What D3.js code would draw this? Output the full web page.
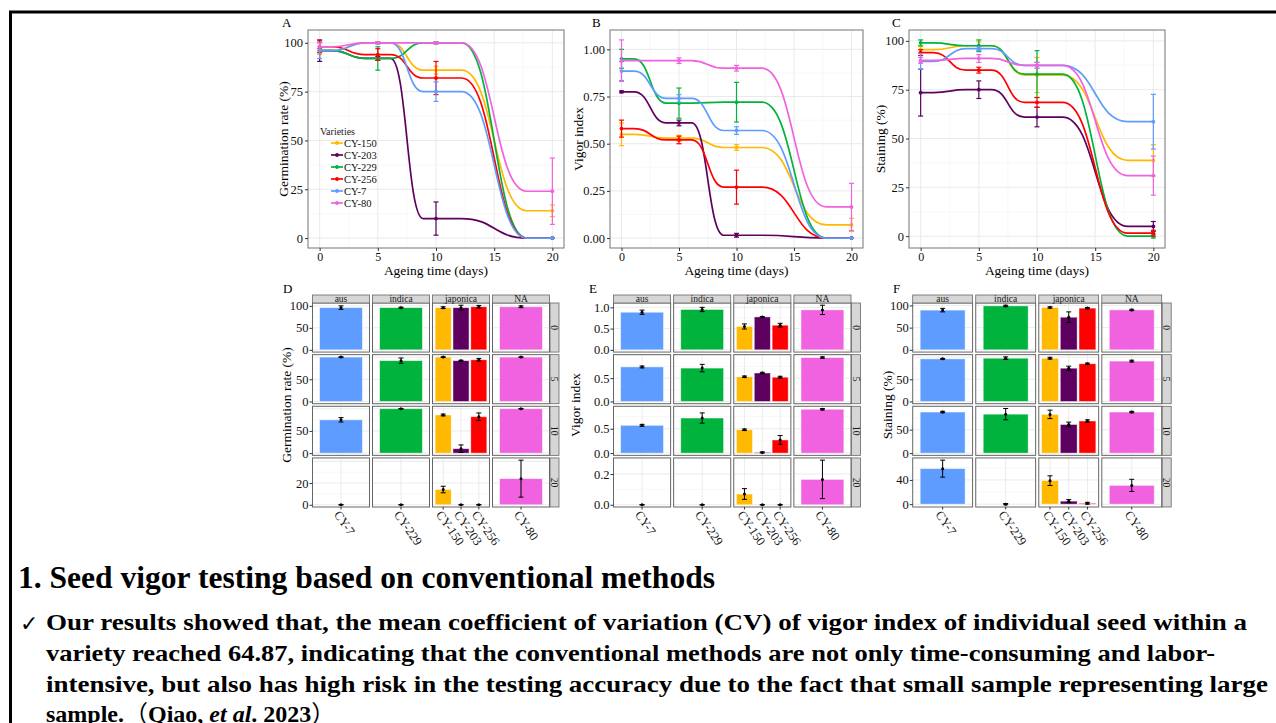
<!DOCTYPE html>
<html>
<head>
<meta charset="utf-8">
<script src="https://cdn.jsdelivr.net/npm/d3@7"></script>
<style>
body { margin: 0; background: #fff; }
svg { display: block; }
</style>
</head>
<body>
<script>
// varieties, in legend order
var varieties = [ 'CY-150', 'CY-203', 'CY-229', 'CY-256', 'CY-7', 'CY-80' ];
var varietyColors = [ '#FFB900', '#5E0060', '#00B33C', '#FF0000', '#5E9CFF', '#F062DF' ];
var varietyGroups = [ 'japonica', 'japonica', 'indica', 'japonica', 'aus', 'NA' ];
var groups = [ 'aus', 'indica', 'japonica', 'NA' ];
var days = [ 0, 5, 10, 20 ];
var dayTicks = [ 0, 5, 10, 15, 20 ];

// one row per variety, one column per ageing day
var germMean = [
	[ 96, 100, 86, 14 ],
	[ 96, 92, 10, 0 ],
	[ 96, 92, 100, 0 ],
	[ 98, 94, 82, 0 ],
	[ 96, 100, 75, 0 ],
	[ 98, 100, 100, 24 ]
];
var germErr = [
	[ 2, 0.5, 2, 3 ],
	[ 5.5, 1, 8.5, 0 ],
	[ 1, 6, 0.5, 0 ],
	[ 3, 3, 8.5, 0 ],
	[ 4, 0.5, 5, 0 ],
	[ 2, 0.5, 0.5, 17 ]
];
var vigorMean = [
	[ 0.55, 0.53, 0.48, 0.07 ],
	[ 0.775, 0.61, 0.015, 0 ],
	[ 0.95, 0.715, 0.72, 0 ],
	[ 0.58, 0.52, 0.27, 0 ],
	[ 0.885, 0.74, 0.57, 0 ],
	[ 0.94, 0.94, 0.9, 0.165 ]
];
var vigorErr = [
	[ 0.06, 0.015, 0.015, 0.035 ],
	[ 0.005, 0.015, 0.01, 0 ],
	[ 0.05, 0.08, 0.105, 0 ],
	[ 0.045, 0.02, 0.09, 0 ],
	[ 0.05, 0.02, 0.02, 0 ],
	[ 0.11, 0.015, 0.015, 0.125 ]
];
var stainMean = [
	[ 95.5, 97.5, 82.5, 38.8 ],
	[ 73.5, 75, 61, 5 ],
	[ 99, 97.5, 83, 0 ],
	[ 94, 85, 68.5, 1.5 ],
	[ 89.5, 96, 87.5, 58.6 ],
	[ 90, 91, 87.5, 31 ]
];
var stainErr = [
	[ 1.5, 2, 9, 8 ],
	[ 12, 4.5, 5, 2.5 ],
	[ 1.5, 3, 12, 1 ],
	[ 1.5, 1.5, 2.5, 1.5 ],
	[ 4, 1, 1.5, 14 ],
	[ 1.5, 2, 1.5, 10 ]
];

var germTicks = [ 0, 25, 50, 75, 100 ];
var vigorTicks = [ 0, 0.25, 0.5, 0.75, 1 ];
var stainTicks = [ 0, 25, 50, 75, 100 ];
var germRowTicks = [ [ 0, 50, 100 ], [ 0, 50 ], [ 0, 50 ], [ 0, 20 ] ];
var vigorRowTicks = [ [ 0, 0.5, 1 ], [ 0, 0.5 ], [ 0, 0.5 ], [ 0, 0.2 ] ];
var stainRowTicks = [ [ 0, 50, 100 ], [ 0, 50 ], [ 0, 50 ], [ 0, 40 ] ];

var heading = '1. Seed vigor testing based on conventional methods';
var bodyLines = [
	'Our results showed that, the mean coefficient of variation (CV) of vigor index of individual seed within a',
	'variety reached 64.87, indicating that the conventional methods are not only time-consuming and labor-',
	'intensive, but also has high risk in the testing accuracy due to the fact that small sample representing large'
];

var serif = '"Liberation Serif", "Times New Roman", serif';
var svg = d3.select( 'body' ).append( 'svg' )
	.attr( 'width', 1276 )
	.attr( 'height', 723 )
	.style( 'font-family', serif );

svg.append( 'rect' ).attr( 'width', 1276 ).attr( 'height', 723 ).attr( 'fill', '#fff' );

// slide frame
svg.append( 'line' ).attr( 'x1', 9 ).attr( 'x2', 1276 ).attr( 'y1', 12 ).attr( 'y2', 12 )
	.attr( 'stroke', '#000' ).attr( 'stroke-width', 3 );
svg.append( 'line' ).attr( 'x1', 10.5 ).attr( 'x2', 10.5 ).attr( 'y1', 11 ).attr( 'y2', 723 )
	.attr( 'stroke', '#000' ).attr( 'stroke-width', 3 );

// smooth step between consecutive points: flat at the points, S-shaped in between
function Sigmoid( context ) { this._context = context; }
Sigmoid.prototype = {
	areaStart: function () { this._line = 0; },
	areaEnd: function () { this._line = NaN; },
	lineStart: function () { this._point = 0; },
	lineEnd: function () {
		if ( this._line || ( this._line !== 0 && this._point === 1 ) ) this._context.closePath();
		this._line = 1 - this._line;
	},
	point: function ( x, y ) {
		x = +x; y = +y;
		if ( this._point === 0 ) {
			this._point = 1;
			this._line ? this._context.lineTo( x, y ) : this._context.moveTo( x, y );
		} else {
			this._point = 2;
			var x0 = this._x0, y0 = this._y0, xm = ( x0 + x ) / 2, w = ( x - x0 ) * 0.28;
			this._context.lineTo( xm - w, y0 );
			this._context.bezierCurveTo( xm, y0, xm, y, xm + w, y );
			this._context.lineTo( x, y );
		}
		this._x0 = x; this._y0 = y;
	}
};
function curveSigmoid( context ) { return new Sigmoid( context ); }

function extent( mean, err, cols ) {
	var lo = Infinity, hi = -Infinity;
	mean.forEach( function ( row, i ) {
		cols.forEach( function ( j ) {
			lo = Math.min( lo, row[j] - err[i][j] );
			hi = Math.max( hi, row[j] + err[i][j] );
		} );
	} );
	return [ lo, hi ];
}

function styleAxis( g, size ) {
	g.select( '.domain' ).remove();
	g.selectAll( '.tick line' ).attr( 'stroke', '#333' );
	g.selectAll( '.tick text' ).attr( 'fill', '#111' ).style( 'font-size', size + 'px' ).style( 'font-family', serif );
}

function drawLinePanel( cfg ) {
	var g = svg.append( 'g' );
	var top = 30, bottom = 248;
	var x = d3.scaleLinear()
		.domain( [ days[0] - 0.05 * ( days[3] - days[0] ), days[3] + 0.05 * ( days[3] - days[0] ) ] )
		.range( [ cfg.left, cfg.right ] );
	var ext = extent( cfg.mean, cfg.err, [ 0, 1, 2, 3 ] );
	var pad = 0.05 * ( ext[1] - ext[0] );
	var y = d3.scaleLinear().domain( [ ext[0] - pad, ext[1] + pad ] ).range( [ bottom, top ] );

	var step = cfg.ticks[1] - cfg.ticks[0];
	g.selectAll( 'line.ymin' ).data( cfg.ticks.map( function ( t ) { return t + step / 2; } ).slice( 0, -1 ) )
		.enter().append( 'line' )
		.attr( 'x1', cfg.left ).attr( 'x2', cfg.right )
		.attr( 'y1', y ).attr( 'y2', y )
		.attr( 'stroke', '#F3F3F3' ).attr( 'stroke-width', 0.6 );
	g.selectAll( 'line.xmin' ).data( dayTicks.slice( 0, -1 ).map( function ( t ) { return t + 2.5; } ) )
		.enter().append( 'line' )
		.attr( 'y1', top ).attr( 'y2', bottom )
		.attr( 'x1', x ).attr( 'x2', x )
		.attr( 'stroke', '#F3F3F3' ).attr( 'stroke-width', 0.6 );
	g.selectAll( 'line.ymaj' ).data( cfg.ticks ).enter().append( 'line' )
		.attr( 'x1', cfg.left ).attr( 'x2', cfg.right )
		.attr( 'y1', y ).attr( 'y2', y )
		.attr( 'stroke', '#E8E8E8' ).attr( 'stroke-width', 0.9 );
	g.selectAll( 'line.xmaj' ).data( dayTicks ).enter().append( 'line' )
		.attr( 'y1', top ).attr( 'y2', bottom )
		.attr( 'x1', x ).attr( 'x2', x )
		.attr( 'stroke', '#E8E8E8' ).attr( 'stroke-width', 0.9 );

	var line = d3.line()
		.x( function ( d, j ) { return x( days[j] ); } )
		.y( function ( d ) { return y( d ); } )
		.curve( curveSigmoid );

	varieties.forEach( function ( v, i ) {
		var s = g.append( 'g' ).attr( 'stroke', varietyColors[i] ).attr( 'fill', varietyColors[i] );
		s.append( 'path' ).attr( 'd', line( cfg.mean[i] ) ).attr( 'fill', 'none' ).attr( 'stroke-width', 1.7 );
		cfg.mean[i].forEach( function ( m, j ) {
			var e = cfg.err[i][j], cx = x( days[j] );
			s.append( 'line' ).attr( 'x1', cx ).attr( 'x2', cx ).attr( 'y1', y( m - e ) ).attr( 'y2', y( m + e ) ).attr( 'stroke-width', 1.2 );
			s.append( 'line' ).attr( 'x1', cx - 2.5 ).attr( 'x2', cx + 2.5 ).attr( 'y1', y( m - e ) ).attr( 'y2', y( m - e ) ).attr( 'stroke-width', 1.2 );
			s.append( 'line' ).attr( 'x1', cx - 2.5 ).attr( 'x2', cx + 2.5 ).attr( 'y1', y( m + e ) ).attr( 'y2', y( m + e ) ).attr( 'stroke-width', 1.2 );
			s.append( 'circle' ).attr( 'cx', cx ).attr( 'cy', y( m ) ).attr( 'r', 1.9 ).attr( 'stroke', 'none' );
		} );
	} );

	g.append( 'rect' ).attr( 'x', cfg.left ).attr( 'y', top )
		.attr( 'width', cfg.right - cfg.left ).attr( 'height', bottom - top )
		.attr( 'fill', 'none' ).attr( 'stroke', '#808080' ).attr( 'stroke-width', 1.1 );

	g.append( 'g' ).attr( 'transform', 'translate(' + cfg.left + ',0)' )
		.call( d3.axisLeft( y ).tickValues( cfg.ticks ).tickFormat( cfg.fmt ).tickSize( 3 ).tickPadding( 2 ) )
		.call( styleAxis, 12.5 );
	g.append( 'g' ).attr( 'transform', 'translate(0,' + bottom + ')' )
		.call( d3.axisBottom( x ).tickValues( dayTicks ).tickFormat( d3.format( 'd' ) ).tickSize( 3 ).tickPadding( 1 ) )
		.call( styleAxis, 12 );

	g.append( 'text' ).attr( 'x', ( cfg.left + cfg.right ) / 2 ).attr( 'y', 275 )
		.attr( 'text-anchor', 'middle' ).style( 'font-size', '13.5px' ).text( 'Ageing time (days)' );
	g.append( 'text' ).attr( 'transform', 'translate(' + cfg.titleX + ',' + ( ( top + bottom ) / 2 ) + ') rotate(-90)' )
		.attr( 'text-anchor', 'middle' ).style( 'font-size', '13.5px' ).text( cfg.title );
	g.append( 'text' ).attr( 'x', cfg.labelX ).attr( 'y', 27 ).style( 'font-size', '13px' ).text( cfg.label );
	return g;
}

function drawFacet( cfg ) {
	var g = svg.append( 'g' );
	var rows = d3.scaleBand().domain( days ).range( [ 303, 507 ] ).paddingInner( 0.05 );
	var cols = d3.scaleBand().domain( groups ).range( [ cfg.left, cfg.right ] ).paddingInner( 0.05 );

	days.forEach( function ( day, r ) {
		var ext = extent( cfg.mean, cfg.err, [ r ] );
		var lo = Math.min( 0, ext[0] ), hi = ext[1], pad = 0.05 * ( hi - lo );
		var y0 = rows( day ), y1 = y0 + rows.bandwidth();
		var y = d3.scaleLinear().domain( [ lo - pad, hi + pad ] ).range( [ y1, y0 ] );
		var ticks = cfg.rowTicks[r], step = ticks[1] - ticks[0];
		var majors = d3.range( 0, hi + pad, step );
		var minors = majors.map( function ( t ) { return t + step / 2; } ).filter( function ( t ) { return t < hi + pad; } );

		groups.forEach( function ( grp ) {
			var cx0 = cols( grp ), cw = cols.bandwidth();
			var idx = d3.range( varieties.length ).filter( function ( i ) { return varietyGroups[i] === grp; } );
			var xb = d3.scaleBand().domain( idx ).range( [ cx0, cx0 + cw ] ).paddingInner( 0.1 ).paddingOuter( 0.15 );
			var cell = g.append( 'g' );
			cell.append( 'rect' ).attr( 'x', cx0 ).attr( 'y', y0 ).attr( 'width', cw ).attr( 'height', y1 - y0 ).attr( 'fill', '#fff' );
			cell.selectAll( 'line.mi' ).data( minors ).enter().append( 'line' )
				.attr( 'x1', cx0 ).attr( 'x2', cx0 + cw ).attr( 'y1', y ).attr( 'y2', y )
				.attr( 'stroke', '#F3F3F3' ).attr( 'stroke-width', 0.6 );
			cell.selectAll( 'line.ma' ).data( majors ).enter().append( 'line' )
				.attr( 'x1', cx0 ).attr( 'x2', cx0 + cw ).attr( 'y1', y ).attr( 'y2', y )
				.attr( 'stroke', '#E6E6E6' ).attr( 'stroke-width', 0.8 );
			cell.selectAll( 'line.vx' ).data( idx ).enter().append( 'line' )
				.attr( 'x1', function ( i ) { return xb( i ) + xb.bandwidth() / 2; } )
				.attr( 'x2', function ( i ) { return xb( i ) + xb.bandwidth() / 2; } )
				.attr( 'y1', y0 ).attr( 'y2', y1 )
				.attr( 'stroke', '#E6E6E6' ).attr( 'stroke-width', 0.8 );
			cell.selectAll( 'rect.bar' ).data( idx ).enter().append( 'rect' )
				.attr( 'x', function ( i ) { return xb( i ); } )
				.attr( 'width', xb.bandwidth() )
				.attr( 'y', function ( i ) { return y( Math.max( 0, cfg.mean[i][r] ) ); } )
				.attr( 'height', function ( i ) { return Math.abs( y( 0 ) - y( cfg.mean[i][r] ) ); } )
				.attr( 'fill', function ( i ) { return varietyColors[i]; } )
				.attr( 'stroke', 'rgba(255,255,255,0.55)' ).attr( 'stroke-width', 0.8 );
			idx.forEach( function ( i ) {
				var m = cfg.mean[i][r], e = cfg.err[i][r], cx = xb( i ) + xb.bandwidth() / 2;
				var eb = cell.append( 'g' ).attr( 'stroke', '#000' ).attr( 'fill', '#000' );
				eb.append( 'line' ).attr( 'x1', cx ).attr( 'x2', cx ).attr( 'y1', y( m - e ) ).attr( 'y2', y( m + e ) ).attr( 'stroke-width', 1 );
				eb.append( 'line' ).attr( 'x1', cx - 2.5 ).attr( 'x2', cx + 2.5 ).attr( 'y1', y( m - e ) ).attr( 'y2', y( m - e ) ).attr( 'stroke-width', 1 );
				eb.append( 'line' ).attr( 'x1', cx - 2.5 ).attr( 'x2', cx + 2.5 ).attr( 'y1', y( m + e ) ).attr( 'y2', y( m + e ) ).attr( 'stroke-width', 1 );
				eb.append( 'circle' ).attr( 'cx', cx ).attr( 'cy', y( m ) ).attr( 'r', 1.5 ).attr( 'stroke', 'none' );
			} );
			cell.append( 'rect' ).attr( 'x', cx0 ).attr( 'y', y0 ).attr( 'width', cw ).attr( 'height', y1 - y0 )
				.attr( 'fill', 'none' ).attr( 'stroke', '#666' ).attr( 'stroke-width', 1 );

			if ( r === days.length - 1 ) {
				idx.forEach( function ( i ) {
					var cx = xb( i ) + xb.bandwidth() / 2;
					g.append( 'line' ).attr( 'x1', cx ).attr( 'x2', cx ).attr( 'y1', y1 ).attr( 'y2', y1 + 2.5 ).attr( 'stroke', '#333' );
					g.append( 'text' )
						.attr( 'transform', 'translate(' + ( cx - 4 ) + ',' + ( y1 + 5 ) + ') rotate(55)' )
						.attr( 'dy', '0.35em' )
						.style( 'font-size', '12.5px' ).attr( 'fill', '#111' )
						.text( varieties[i] );
				} );
			}
		} );

		// row strip on the right
		g.append( 'rect' ).attr( 'x', cfg.right + 0.5 ).attr( 'y', y0 ).attr( 'width', 9 ).attr( 'height', y1 - y0 )
			.attr( 'fill', '#D6D6D6' ).attr( 'stroke', '#666' ).attr( 'stroke-width', 0.8 );
		g.append( 'text' ).attr( 'transform', 'translate(' + ( cfg.right + 5 ) + ',' + ( ( y0 + y1 ) / 2 ) + ') rotate(90)' )
			.attr( 'text-anchor', 'middle' ).attr( 'dy', '0.35em' ).style( 'font-size', '9.5px' ).attr( 'fill', '#1A1A1A' )
			.text( day );

		g.append( 'g' ).attr( 'transform', 'translate(' + cfg.left + ',0)' )
			.call( d3.axisLeft( y ).tickValues( ticks ).tickFormat( cfg.fmt ).tickSize( 3 ).tickPadding( 1 ) )
			.call( styleAxis, 12.5 );
	} );

	// column strips on top
	groups.forEach( function ( grp ) {
		g.append( 'rect' ).attr( 'x', cols( grp ) ).attr( 'y', 295 ).attr( 'width', cols.bandwidth() ).attr( 'height', 8 )
			.attr( 'fill', '#D6D6D6' ).attr( 'stroke', '#666' ).attr( 'stroke-width', 0.8 );
		g.append( 'text' ).attr( 'x', cols( grp ) + cols.bandwidth() / 2 ).attr( 'y', 299 )
			.attr( 'text-anchor', 'middle' ).attr( 'dy', '0.35em' ).style( 'font-size', '9.5px' ).attr( 'fill', '#1A1A1A' )
			.text( grp );
	} );

	g.append( 'text' ).attr( 'transform', 'translate(' + cfg.titleX + ',405) rotate(-90)' )
		.attr( 'text-anchor', 'middle' ).style( 'font-size', '13.5px' ).text( cfg.title );
	g.append( 'text' ).attr( 'x', cfg.labelX ).attr( 'y', 293 ).style( 'font-size', '13px' ).text( cfg.label );
}

var panelA = drawLinePanel( { left: 308, right: 564, mean: germMean, err: germErr, ticks: germTicks,
	fmt: d3.format( 'd' ), title: 'Germination rate (%)', titleX: 288, label: 'A', labelX: 282 } );
drawLinePanel( { left: 610, right: 863, mean: vigorMean, err: vigorErr, ticks: vigorTicks,
	fmt: d3.format( '.2f' ), title: 'Vigor index', titleX: 583, label: 'B', labelX: 592 } );
drawLinePanel( { left: 909, right: 1165, mean: stainMean, err: stainErr, ticks: stainTicks,
	fmt: d3.format( 'd' ), title: 'Staining (%)', titleX: 885, label: 'C', labelX: 892 } );

// legend inside panel A
var legend = panelA.append( 'g' );
legend.append( 'text' ).attr( 'x', 320 ).attr( 'y', 135 ).style( 'font-size', '10px' ).attr( 'fill', '#222' ).text( 'Varieties' );
varieties.forEach( function ( v, i ) {
	var ly = 143 + i * 12;
	legend.append( 'line' ).attr( 'x1', 331 ).attr( 'x2', 343 ).attr( 'y1', ly ).attr( 'y2', ly )
		.attr( 'stroke', varietyColors[i] ).attr( 'stroke-width', 1.7 );
	legend.append( 'circle' ).attr( 'cx', 337 ).attr( 'cy', ly ).attr( 'r', 1.9 ).attr( 'fill', varietyColors[i] );
	legend.append( 'text' ).attr( 'x', 344 ).attr( 'y', ly ).attr( 'dy', '0.35em' )
		.style( 'font-size', '10.5px' ).attr( 'fill', '#111' ).text( v );
} );

drawFacet( { left: 312.5, right: 549.5, mean: germMean, err: germErr, rowTicks: germRowTicks,
	fmt: d3.format( 'd' ), title: 'Germination rate (%)', titleX: 291, label: 'D', labelX: 283 } );
drawFacet( { left: 613.5, right: 851, mean: vigorMean, err: vigorErr, rowTicks: vigorRowTicks,
	fmt: d3.format( '.1f' ), title: 'Vigor index', titleX: 580, label: 'E', labelX: 589 } );
drawFacet( { left: 912.7, right: 1161.7, mean: stainMean, err: stainErr, rowTicks: stainRowTicks,
	fmt: d3.format( 'd' ), title: 'Staining (%)', titleX: 892, label: 'F', labelX: 893 } );

// text block under the figure
svg.append( 'text' ).attr( 'x', 18 ).attr( 'y', 588 )
	.style( 'font-size', '31px' ).style( 'font-weight', 'bold' )
	.attr( 'textLength', 697 ).attr( 'lengthAdjust', 'spacingAndGlyphs' )
	.text( heading );
svg.append( 'text' ).attr( 'x', 20 ).attr( 'y', 631 )
	.style( 'font-size', '22px' ).style( 'font-family', '"DejaVu Sans", sans-serif' ).text( '\u2713' );
var bodyWidths = [ 1201, 1169, 1222 ];
bodyLines.forEach( function ( t, i ) {
	svg.append( 'text' ).attr( 'x', 46 ).attr( 'y', 630 + i * 31 )
		.style( 'font-size', '24px' ).style( 'font-weight', 'bold' )
		.attr( 'textLength', bodyWidths[i] ).attr( 'lengthAdjust', 'spacingAndGlyphs' )
		.text( t );
} );
// the last line runs off the bottom of the slide, as in the source
var last = svg.append( 'text' ).attr( 'x', 46 ).attr( 'y', 722 )
	.style( 'font-size', '24px' ).style( 'font-weight', 'bold' );
last.append( 'tspan' ).text( 'sample.' );
last.append( 'tspan' ).style( 'font-family', '"Noto Sans CJK SC", sans-serif' ).style( 'font-weight', 'normal' ).text( '\uFF08' );
last.append( 'tspan' ).text( 'Qiao, ' );
last.append( 'tspan' ).style( 'font-style', 'italic' ).text( 'et al' );
last.append( 'tspan' ).text( '. 2023' );
last.append( 'tspan' ).style( 'font-family', '"Noto Sans CJK SC", sans-serif' ).style( 'font-weight', 'normal' ).text( '\uFF09' );
</script>
</body>
</html>
